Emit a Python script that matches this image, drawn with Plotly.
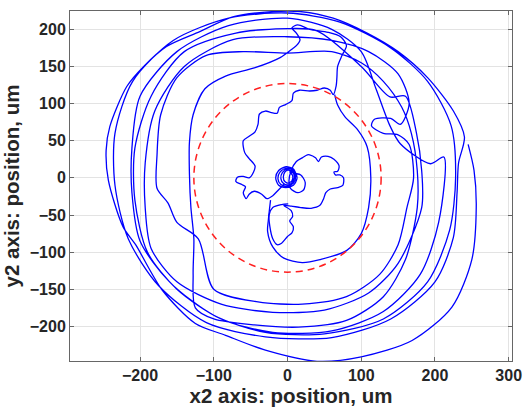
import plotly.graph_objects as go

# ---------------- data (um) ----------------
coil_x = [12, 8, -2, -12, -16, -12, -2, 8, 13, 9, -1, -10, -13, -9, 0, 8, 11, 7, 0, -7, -9, -5, 2, 8, 9, 5, -1, -5, -5, 0, 6, 7, 3,
          10, 18, 24, 22, 14, 4, 2, 5, 12, 20, 27, 30, 38, 42, 46, 55, 63, 70, 68, 63, 65, 71, 76, 75, 68, 58, 52, 49, 44, 32, 18, 5, -5,
          5, 7, 3, 8, 6, 0, -8, -14, -20, -24, -25, -20, -8, 1]
coil_y = [4, 12, 15, 10, 0, -10, -13, -10, 0, 10, 13, 8, -1, -9, -11, -7, 2, 10, 12, 7, -1, -8, -9, -4, 4, 9, 10, 5, -3, -7, -4, 3, 8,
          6, 4, -6, -16, -20, -14, -4, 10, 22, 27, 31, 31, 27, 22, 28, 29, 25, 16, 9, 8, 4, 4, 0, -10, -13, -15, -20, -28, -37, -41, -40, -38, -37,
          -44, -52, -58, -66, -74, -79, -88, -90, -82, -65, -50, -40, -36, -35]

wiggle_x = [-4, -12, -20, -28, -35, -45, -52, -56, -60, -57, -62, -70, -68, -60, -52, -46, -44, -52, -58, -60, -52, -44, -40, -38, -30, -22,
            -14, -11, -2, 6, 8, 16, 30, 40, 50, 58, 62, 66, 67, 68, 74, 80, 72, 55, 30, 14, 6, 12, 17, 12, 8]
wiggle_y = [-8, -16, -24, -28, -22, -18, -22, -28, -20, -12, -9, -5, 1, 2, 0, 8, 16, 26, 34, 50, 56, 62, 72, 86, 90, 88,
            87, 95, 99, 104, 114, 118, 117, 118, 121, 118, 112, 124, 135, 150, 165, 178, 190, 196, 200, 206, 202, 195, 186, 178, 175]

ring_x = [-23, -26, -27, -20, -5, 20, 44, 80, 100, 110, 113, 108, 95, 78, 68, 64]
ring_y = [-30, -57, -72, -93, -108, -114, -110, -98, -75, -40, 0, 42, 65, 82, 98, 112]

lapA_x = [-10, -45, -84, -112, -128, -133, -133, -131, -127, -128, -125, -100, -45, 15, 80, 130, 160, 176, 176, 168, 155]
lapA_y = [162, 148, 137, 120, 85, 48, 5, -40, -82, -130, -175, -190, -198, -201, -192, -160, -110, -40, 10, 60, 95]

lapB_x = [130, 100, 60, 0, -60, -110, -150, -172, -177, -177, -162, -150, -121, -100, -40, 20, 80, 125, 150, 162, 171, 165,
          150, 130, 114, 118, 140, 153]
lapB_y = [130, 155, 170, 168, 170, 165, 135, 85, 30, -14, -34, -60, -82, -150, -167, -170, -160, -130, -90, -40, 0, 45,
          58, 60, 70, 79, 80, 72]

lapC_x = [165, 150, 110, 60, 0, -74, -140, -180, -193, -193, -185, -150, -90, -20, 50, 110, 150, 182, 182, 175]
lapC_y = [100, 140, 170, 185, 190, 186, 150, 90, 20, -40, -95, -140, -170, -181, -178, -155, -115, -40, 10, 60]

lapD_x = [160, 139, 100, 40, 0, -70, -140, -185, -207, -207, -190, -150, -90, -20, 60, 130, 180, 205, 212, 194, 153, 139]
lapD_y = [110, 109, 150, 198, 201, 195, 170, 110, 40, -30, -100, -150, -190, -208, -206, -180, -130, -60, 28, 19, 46, 70]

lapE_x = [120, 100, 60, 0, -80, -150, -200, -211, -211, -200, -160, -100, -30, 50, 130, 190, 220, 228]
lapE_y = [120, 170, 200, 215, 205, 170, 110, 40, -20, -85, -140, -185, -208, -210, -190, -140, -70, 0]

lapF_x = [222, 190, 140, 70, 0, -80, -155, -210, -234, -234, -216, -175, -110, -30, 60, 140, 200, 225, 230, 232]
lapF_y = [70, 130, 175, 210, 222, 215, 185, 130, 60, -10, -82, -145, -195, -214, -215, -190, -140, -80, -20, 20]

lapG_x = [240, 225, 190, 150, 108, 62, 17, -19, -73, -119, -164, -195, -218, -241, -246, -243, -223, -206, -170, -125,
          -84, -30, 40, 100, 169, 223, 250, 256, 253, 245]
lapG_y = [55, 90, 135, 170, 195, 215, 224, 224, 217, 197, 177, 150, 123, 69, 37, -3, -66, -90, -151, -196,
          -212, -232, -247, -241, -219, -174, -110, -40, 10, 45]

circle_radius = 127

x_range = [-295, 304.5]
y_range = [-246.6, 224.7]
x_ticks = [-200, -100, 0, 100, 200, 300]
y_ticks = [-200, -150, -100, -50, 0, 50, 100, 150, 200]

# ---------------- figure ----------------
main_x = wiggle_x + lapA_x + lapB_x + lapC_x + lapD_x + lapE_x + lapF_x + lapG_x
main_y = wiggle_y + lapA_y + lapB_y + lapC_y + lapD_y + lapE_y + lapF_y + lapG_y

fig = go.Figure()
for xs, ys in [(coil_x, coil_y), (main_x, main_y), (ring_x, ring_y)]:
    fig.add_trace(go.Scatter(x=xs, y=ys, mode="lines",
                             line=dict(color="#0000ff", width=1.3, shape="spline", smoothing=0.8),
                             hoverinfo="skip", showlegend=False))

fig.add_shape(type="circle", xref="x", yref="y",
              x0=-circle_radius, x1=circle_radius, y0=-circle_radius, y1=circle_radius,
              line=dict(color="#ff2020", width=1.5, dash="7px,5px"), layer="above")

font_family = "Liberation Sans, Arial"
axis_common = dict(showline=True, linecolor="#666666", linewidth=1, mirror="ticks",
                   ticks="inside", ticklen=4, tickcolor="#666666", automargin=False,
                   showgrid=True, gridcolor="#e3e3e3", gridwidth=1, zeroline=False,
                   tickfont=dict(family=font_family, size=16, color="#262626", weight="bold"))

fig.update_layout(
    width=524, height=412, autosize=False,
    margin=dict(l=70, r=12, t=11, b=51),
    paper_bgcolor="white", plot_bgcolor="white",
    xaxis=dict(range=x_range, tickvals=x_ticks, **axis_common,
               title=dict(text="x2 axis: position, um", standoff=2,
                          font=dict(family=font_family, size=20.5, color="#262626", weight="bold"))),
    yaxis=dict(range=y_range, tickvals=y_ticks, **axis_common,
               title=dict(text="y2 axis: position, um", standoff=6,
                          font=dict(family=font_family, size=20.5, color="#262626", weight="bold"))),
)

fig.write_html("out.html", config={"displayModeBar": False},
               post_script="document.body.style.margin='0';document.body.style.padding='0';")
